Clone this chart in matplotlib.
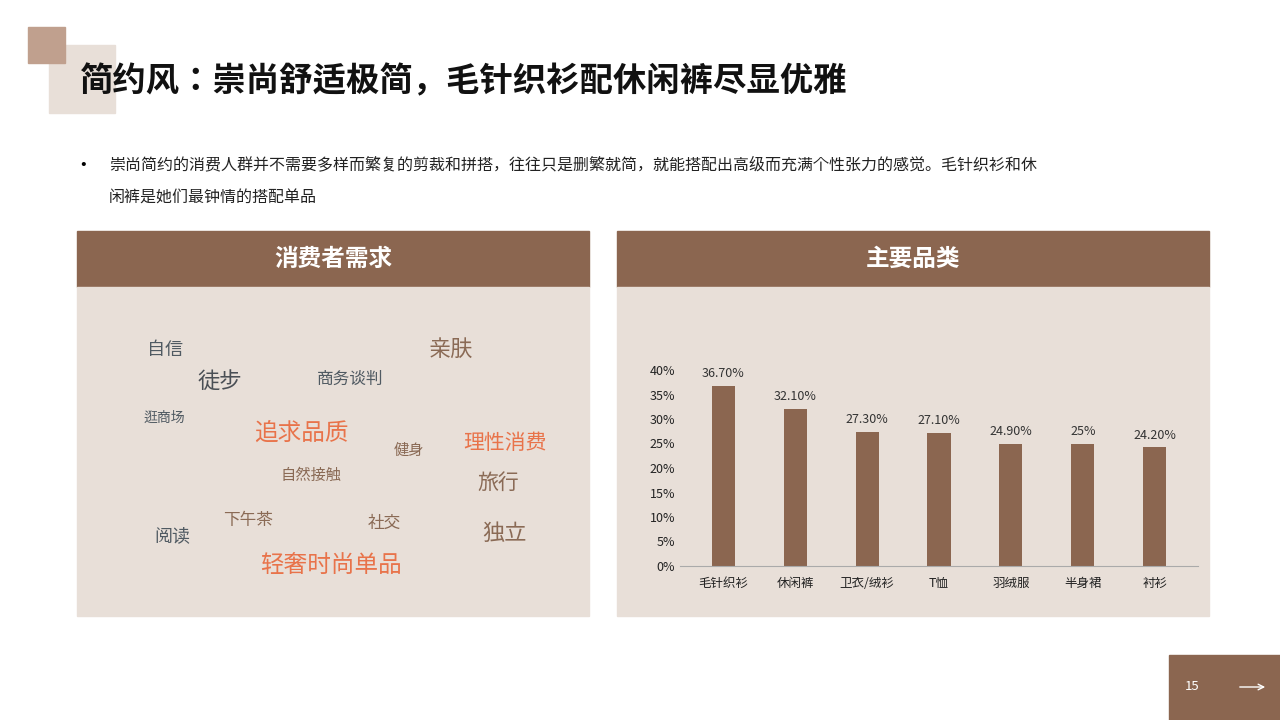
import matplotlib.pyplot as plt
from matplotlib.patches import Rectangle

plt.rcParams["font.family"] = "sans-serif"
plt.rcParams["font.sans-serif"] = ["Noto Sans CJK SC", "Noto Sans CJK JP", "Noto Sans CJK TC",
                                   "Noto Sans CJK KR", "DejaVu Sans"]

BROWN = "#8b6650"
PANEL = "#e8dfd8"

categories = ["毛针织衫", "休闲裤", "卫衣/绒衫", "T恤", "羽绒服", "半身裙", "衬衫"]
shares = [36.7, 32.1, 27.3, 27.1, 24.9, 25.0, 24.2]
value_labels = ["36.70%", "32.10%", "27.30%", "27.10%", "24.90%", "25%", "24.20%"]
yticks = [0, 5, 10, 15, 20, 25, 30, 35, 40]

words = ["自信", "徒步", "商务谈判", "亲肤", "逛商场", "追求品质", "健身", "理性消费",
         "自然接触", "旅行", "下午茶", "社交", "阅读", "独立", "轻奢时尚单品"]
# layout for the word cloud: (x, y, size, colour)
word_layout = [
    (165, 350, 13, "#505a62"), (220, 381, 16, "#4a4f55"), (350, 379, 12, "#505a62"),
    (451, 349, 16, "#8a6a55"), (164, 418, 10, "#505a62"), (301, 433, 17, "#e8734a"),
    (409, 450, 11, "#8a6a55"), (505, 443, 15, "#e8734a"), (311, 475, 11, "#8a6a55"),
    (498, 483, 15, "#8a6a55"), (248, 521, 12, "#8a6a55"), (384, 523, 12, "#8a6a55"),
    (172, 536, 13, "#505a62"), (505, 533, 16, "#8a6a55"), (331, 566, 17, "#e8734a"),
]

fig = plt.figure(figsize=(12.8, 7.2), dpi=100)
bg = fig.add_axes([0, 0, 1, 1])
bg.set_xlim(0, 1280)
bg.set_ylim(720, 0)
bg.axis("off")

# decoration squares
bg.add_patch(Rectangle((49, 45), 66, 68, color="#e8dfd8"))
bg.add_patch(Rectangle((28, 27), 37, 36, color="#c0a08e"))
bg.text(80, 82, "简约风：崇尚舒适极简，毛针织衫配休闲裤尽显优雅", fontsize=24,
        fontweight="bold", va="center", color="#111111")

bg.text(80, 165, "•", fontsize=12, va="center")
bg.text(109, 165, "崇尚简约的消费人群并不需要多样而繁复的剪裁和拼搭，往往只是删繁就简，就能搭配出高级而充满个性张力的感觉。毛针织衫和休",
        fontsize=11.5, va="center", color="#222222")
bg.text(109, 198, "闲裤是她们最钟情的搭配单品", fontsize=11.5, va="center", color="#222222")

for x0, x1, title in [(77, 589, "消费者需求"), (617, 1209, "主要品类")]:
    bg.add_patch(Rectangle((x0, 231), x1 - x0, 56, color=BROWN))
    bg.add_patch(Rectangle((x0, 287), x1 - x0, 329, color=PANEL))
    bg.text((x0 + x1) / 2, 259, title, fontsize=17, fontweight="bold",
            color="white", ha="center", va="center")

for w, (x, y, s, c) in zip(words, word_layout):
    bg.text(x, y, w, fontsize=s, color=c, ha="center", va="center")

# page number
bg.add_patch(Rectangle((1169, 655), 111, 65, color=BROWN))
bg.text(1192, 687, "15", fontsize=9.5, color="white", ha="center", va="center")
bg.annotate("", xy=(1268, 687), xytext=(1237, 687),
            arrowprops=dict(arrowstyle="->", color="white", lw=1))

# bar chart
ax = fig.add_axes([680 / 1280, 154 / 720, 518 / 1280, 196 / 720])
ax.patch.set_alpha(0)
x = range(len(categories))
ax.bar(x, shares, width=0.32, color=BROWN)
for i, (v, lab) in enumerate(zip(shares, value_labels)):
    ax.text(i, v + 1.2, lab, ha="center", va="bottom", fontsize=9, color="#333333")
ax.set_xlim(-0.6, len(categories) - 0.4)
ax.set_ylim(0, 40)
ax.set_yticks(yticks)
ax.set_yticklabels([f"{t}%" for t in yticks], fontsize=9)
ax.set_xticks(list(x))
ax.set_xticklabels(categories, fontsize=9)
ax.tick_params(length=0, colors="#222222")
ax.tick_params(axis="x", pad=8)
for s in ["top", "right", "left"]:
    ax.spines[s].set_visible(False)
ax.spines["bottom"].set_color("#aaaaaa")

fig.savefig("out.png", dpi=100)
